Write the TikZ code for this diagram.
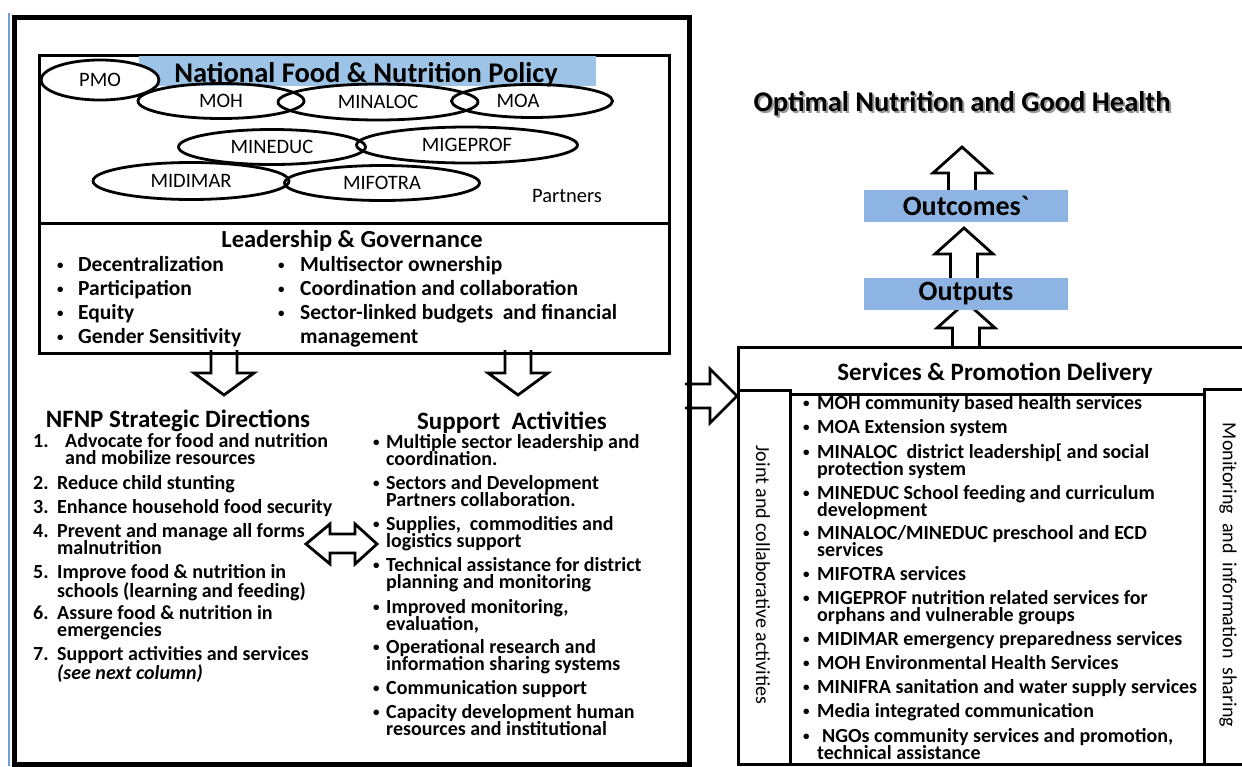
\documentclass[tikz,border=0pt]{standalone}
\usepackage{fontspec}
\setmainfont{Carlito}
\usetikzlibrary{shapes.geometric}
\definecolor{titleblue}{RGB}{157,195,230}
\definecolor{boxblue}{RGB}{141,180,226}
\definecolor{edgeblue}{RGB}{110,160,220}
\newcommand{\lineA}{\rule{0pt}{17pt}}
\newcommand{\lineB}{\rule{0pt}{18pt}}
\newcommand{\smalldot}{\raisebox{1.8pt}{\fontsize{13}{13}\selectfont •}}
\begin{document}
\begin{tikzpicture}[x=1pt,y=-1pt,
  outerbox/.style={draw=black,line width=4.5pt,inner sep=0pt},
  boxframe/.style={draw=black,line width=2.8pt,inner sep=0pt},
  minis/.style={ellipse,draw=black,line width=2.8pt,inner sep=0pt,font=\fontsize{20.5}{20.5}\selectfont},
  plaintext/.style={inner sep=0pt,font=\fontsize{20}{20}\selectfont},
  hdr/.style={inner sep=0pt,anchor=base,font=\bfseries\fontsize{25}{25}\selectfont},
  listtext/.style={inner sep=0pt,anchor=north west,align=left,font=\bfseries\fontsize{20}{17.5}\selectfont},
  lgtext/.style={inner sep=0pt,anchor=north west,align=left,font=\bfseries\fontsize{21.5}{24}\selectfont},
  blockarrow/.style={draw=black,line width=2.8pt,fill=white,line join=miter},
  bluebox/.style={fill=boxblue,inner sep=0pt,minimum width=204pt,minimum height=32pt,font=\bfseries\fontsize{28}{28}\selectfont},
]
\fill[white] (0,0) rectangle (1242,766);
\useasboundingbox (0,0) rectangle (1242,766);
\draw[edgeblue,line width=1.5pt] (9,13) -- (9,766);

% block arrows (drawn first, boxes go over their ends)
\draw[blockarrow] (211,350) -- (211,373) -- (194,373) -- (224,395) -- (254,373) -- (237,373) -- (237,350);
\draw[blockarrow] (505,350) -- (505,373) -- (488,373) -- (518,395) -- (548,373) -- (531,373) -- (531,350);
\draw[blockarrow] (685,384) -- (710,384) -- (710,369) -- (737,396) -- (710,423) -- (710,408) -- (685,408);
\draw[blockarrow] (306,544) -- (330,524) -- (330,534) -- (355,534) -- (355,524) -- (377,544) -- (355,564) -- (355,553) -- (330,553) -- (330,564) -- cycle;
\draw[blockarrow] (948.5,192) -- (948.5,173) -- (933,173) -- (962,147) -- (991,173) -- (975.5,173) -- (975.5,192);
\draw[blockarrow] (950.5,280) -- (950.5,254) -- (935,254) -- (964,228) -- (993,254) -- (977.5,254) -- (977.5,280);
\draw[blockarrow] (952.5,346) -- (952.5,328) -- (937,328) -- (966,302) -- (995,328) -- (979.5,328) -- (979.5,346);

% boxes
\node[outerbox,anchor=north west,minimum width=675pt,minimum height=747pt] (outer) at (12,15) {};
\node[boxframe,anchor=north west,minimum width=630pt,minimum height=168pt] (policy) at (38,54) {};
\node[boxframe,anchor=north west,minimum width=630pt,minimum height=130pt] (lead) at (38,222) {};
\node[boxframe,anchor=north west,minimum width=513pt,minimum height=417pt] (serv) at (737,346) {};
\node[boxframe,anchor=north west,minimum width=52pt,minimum height=374pt] (jointbox) at (737,389) {};
\node[boxframe,anchor=north west,minimum width=414pt,minimum height=370pt] (listbox) at (789,393) {};
\node[boxframe,anchor=north west,minimum width=47pt,minimum height=375pt] (monbox) at (1203,388) {};

% policy area
\fill[titleblue] (139,56) rectangle (596,86);
\node[inner sep=0pt,anchor=base,font=\bfseries\fontsize{28.5}{28.5}\selectfont] (title) at (366,82) {National Food \& Nutrition Policy};
\node[minis,fill=white,minimum width=118pt,minimum height=40pt] (pmo) at (100,80) {PMO};
\node[minis,minimum width=166pt,minimum height=35pt] (moh) at (221,101) {MOH};
\node[minis,minimum width=200pt,minimum height=36pt] (minaloc) at (378,102) {MINALOC};
\node[minis,minimum width=161pt,minimum height=33pt] (moa) at (532,101) {MOA\hspace*{28pt}};
\node[minis,minimum width=187pt,minimum height=35pt] (mineduc) at (272,147) {MINEDUC};
\node[minis,minimum width=221pt,minimum height=36pt] (migeprof) at (467,145) {MIGEPROF};
\node[minis,minimum width=196pt,minimum height=37pt] (midimar) at (191,181) {MIDIMAR};
\node[minis,minimum width=195pt,minimum height=35pt] (mifotra) at (382,183) {MIFOTRA};
\node[plaintext,font=\fontsize{20.5}{20.5}\selectfont] (partners) at (567,196) {Partners};

% leadership
\node[hdr,font=\bfseries\fontsize{24.5}{24.5}\selectfont] (leadtitle) at (352,247) {Leadership \& Governance};
\node[lgtext] (leadleft) at (57,253) {\makebox[21pt][l]{\lineB\smalldot}Decentralization\\\makebox[21pt][l]{\smalldot}Participation\\\makebox[21pt][l]{\smalldot}Equity\\\makebox[21pt][l]{\smalldot}Gender Sensitivity};
\node[lgtext] (leadright) at (278,253) {\makebox[22pt][l]{\lineB\smalldot}Multisector ownership\\\makebox[22pt][l]{\smalldot}Coordination and collaboration\\\makebox[22pt][l]{\smalldot}Sector-linked budgets\ \ and financial\\\hspace*{22pt}management};

% strategic directions
\node[hdr] (nfnp) at (178,427) {NFNP Strategic Directions};
\node[listtext] (s1) at (33,430) {\makebox[32pt][l]{\lineA1.}Advocate for food and nutrition\\\hspace*{32pt}and mobilize resources};
\node[listtext] (s2) at (33,472) {\makebox[24pt][l]{\lineA2.}Reduce child stunting};
\node[listtext] (s3) at (33,496) {\makebox[24pt][l]{\lineA3.}Enhance household food\ security};
\node[listtext] (s4) at (33,520) {\makebox[24pt][l]{\lineA4.}Prevent and manage all forms\\\hspace*{24pt}malnutrition};
\node[listtext] (s5) at (33,561) {\makebox[24pt][l]{\lineA5.}Improve food \& nutrition in\\\hspace*{24pt}schools (learning and feeding)};
\node[listtext] (s6) at (33,602) {\makebox[24pt][l]{\lineA6.}Assure food \& nutrition in\\\hspace*{24pt}emergencies};
\node[listtext] (s7) at (33,643) {\makebox[24pt][l]{\lineA7.}Support activities and services\\\hspace*{24pt}\textit{(see next column)}};

% support activities
\node[hdr] (support) at (512,429) {Support\ \ Activities};
\node[listtext] (a1) at (373,431) {\makebox[13pt][l]{\lineA\smalldot}Multiple sector leadership and\\\hspace*{13pt}coordination.};
\node[listtext] (a2) at (373,472) {\makebox[13pt][l]{\lineA\smalldot}Sectors and Development\\\hspace*{13pt}Partners collaboration.};
\node[listtext] (a3) at (373,513) {\makebox[13pt][l]{\lineA\smalldot}Supplies,\ \ commodities and\\\hspace*{13pt}logistics support};
\node[listtext] (a4) at (373,554) {\makebox[13pt][l]{\lineA\smalldot}Technical assistance for district\\\hspace*{13pt}planning and monitoring};
\node[listtext] (a5) at (373,596) {\makebox[13pt][l]{\lineA\smalldot}Improved monitoring,\\\hspace*{13pt}evaluation,};
\node[listtext] (a6) at (373,636) {\makebox[13pt][l]{\lineA\smalldot}Operational research and\\\hspace*{13pt}information sharing systems};
\node[listtext] (a7) at (373,677) {\makebox[13pt][l]{\lineA\smalldot}Communication support};
\node[listtext] (a8) at (373,701) {\makebox[13pt][l]{\lineA\smalldot}Capacity development human\\\hspace*{13pt}resources and institutional};

% right side
\node[inner sep=0pt,anchor=base,font=\bfseries\fontsize{28.5}{28.5}\selectfont,text=black!40] (optshadow) at (964,113) {Optimal Nutrition and Good Health};
\node[inner sep=0pt,anchor=base,font=\bfseries\fontsize{28.5}{28.5}\selectfont] (optimal) at (962,111) {Optimal Nutrition and Good Health};
\node[bluebox] (outcomes) at (966,206) {Outcomes\textasciigrave};
\node[bluebox] (outputs) at (966,294) {Outputs};

\node[hdr] (servtitle) at (995,380) {Services \& Promotion Delivery};
\node[plaintext,rotate=-90] (joint) at (763,575) {Joint and collaborative activities};
\node[plaintext,rotate=-90] (monit) at (1228,575) {Monitoring\ \ and\ \ information\ \ sharing};

\node[listtext] (v1) at (803,392) {\makebox[14pt][l]{\lineA\smalldot}MOH community based health services};
\node[listtext] (v2) at (803,416) {\makebox[14pt][l]{\lineA\smalldot}MOA Extension system};
\node[listtext] (v3) at (803,441) {\makebox[14pt][l]{\lineA\smalldot}MINALOC\ \ district leadership[ and social\\\hspace*{14pt}protection system};
\node[listtext] (v4) at (803,482) {\makebox[14pt][l]{\lineA\smalldot}MINEDUC School feeding and curriculum\\\hspace*{14pt}development};
\node[listtext] (v5) at (803,522) {\makebox[14pt][l]{\lineA\smalldot}MINALOC/MINEDUC preschool and ECD\\\hspace*{14pt}services};
\node[listtext] (v6) at (803,563) {\makebox[14pt][l]{\lineA\smalldot}MIFOTRA services};
\node[listtext] (v7) at (803,587) {\makebox[14pt][l]{\lineA\smalldot}MIGEPROF nutrition related services for\\\hspace*{14pt}orphans and vulnerable groups};
\node[listtext] (v8) at (803,628) {\makebox[14pt][l]{\lineA\smalldot}MIDIMAR emergency preparedness services};
\node[listtext] (v9) at (803,652) {\makebox[14pt][l]{\lineA\smalldot}MOH Environmental Health Services};
\node[listtext] (v10) at (803,676) {\makebox[14pt][l]{\lineA\smalldot}MINIFRA sanitation and water supply services};
\node[listtext] (v11) at (803,700) {\makebox[14pt][l]{\lineA\smalldot}Media integrated communication};
\node[listtext] (v12) at (803,725) {\makebox[14pt][l]{\lineA\smalldot}\hspace*{5pt}NGOs community services and promotion,\\\hspace*{14pt}technical assistance};
\end{tikzpicture}
\end{document}
